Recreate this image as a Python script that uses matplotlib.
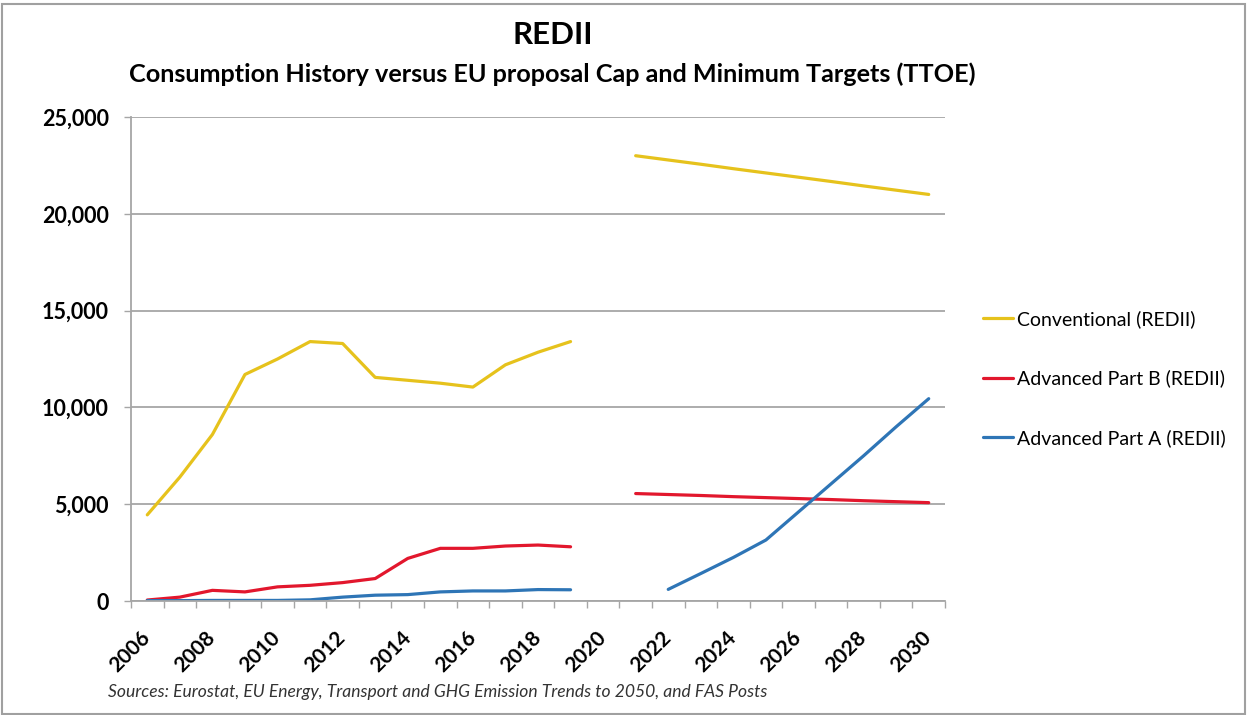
import numpy as np
import matplotlib
matplotlib.use("Agg")
import matplotlib.pyplot as plt
from matplotlib.ticker import FuncFormatter, FixedLocator
import matplotlib.transforms as mtransforms
from matplotlib.patches import Rectangle

years = [2006, 2007, 2008, 2009, 2010, 2011, 2012, 2013, 2014, 2015, 2016, 2017, 2018,
         2019, 2020, 2021, 2022, 2023, 2024, 2025, 2026, 2027, 2028, 2029, 2030]
nan = np.nan
conventional = [4450, 6400, 8600, 11700, 12500, 13400, 13300, 11550, 11400, 11250, 11050,
                12200, 12850, 13400, nan,
                23000, 22780, 22560, 22330, 22110, 21890, 21670, 21440, 21220, 21000]
part_b = [50, 200, 550, 470, 730, 810, 950, 1160, 2200, 2720, 2720, 2840, 2890, 2800, nan,
          5550, 5500, 5450, 5390, 5340, 5290, 5240, 5180, 5130, 5080]
part_a = [20, 20, 30, 30, 30, 60, 200, 300, 330, 470, 520, 520, 590, 580, nan,
          nan, 600, 1420, 2250, 3150, 4600, 6050, 7500, 9000, 10450]
series_names = ["Conventional (REDII)", "Advanced Part B (REDII)", "Advanced Part A (REDII)"]
colors = ["#E6C21C", "#E2172D", "#2E75B6"]
y_ticks = [0, 5000, 10000, 15000, 20000, 25000]
x_label_years = [2006, 2008, 2010, 2012, 2014, 2016, 2018, 2020, 2022, 2024, 2026, 2028, 2030]

FONT = "Lato"
plt.rcParams["font.family"] = [FONT, "DejaVu Sans"]

W, H = 1249, 715
fig = plt.figure(figsize=(W / 100, H / 100), dpi=100)
fig.patch.set_facecolor("white")
fig.patches.append(Rectangle((0.002, 0.002), 0.995, 0.993, transform=fig.transFigure,
                             fill=False, edgecolor="#A0A0A0", linewidth=1.5))

ax = fig.add_axes([131 / W, 1 - 601 / H, (945 - 131) / W, (601 - 117) / H])
x = np.arange(len(years))
for vals, name, c in zip([conventional, part_b, part_a], series_names, colors):
    ax.plot(x, np.array(vals, dtype=float), color=c, linewidth=2.3, label=name,
            solid_capstyle="round", solid_joinstyle="round")

ax.set_xlim(-0.5, len(years) - 0.5)
ax.set_ylim(0, 25000)
ax.set_yticks(y_ticks)
ax.yaxis.set_major_formatter(FuncFormatter(lambda v, p: f"{int(v):,}"))
ax.grid(axis="y", color="#A6A6A6", linewidth=1.3)
ax.set_axisbelow(True)
for s in ["top", "right"]:
    ax.spines[s].set_visible(False)
for s in ["left", "bottom"]:
    ax.spines[s].set_color("#A6A6A6")
    ax.spines[s].set_linewidth(1.3)

label_pos = [years.index(y) for y in x_label_years]
ax.set_xticks(label_pos)
ax.set_xticklabels([str(y) for y in x_label_years])
ax.xaxis.set_minor_locator(FixedLocator(np.arange(-0.5, len(years), 1.0)))
ax.tick_params(axis="x", which="major", length=0, pad=19)
ax.tick_params(axis="x", which="minor", length=5, color="#A6A6A6", width=1)
ax.tick_params(axis="y", length=5, color="#A6A6A6", width=1, pad=11)
for lbl in ax.get_yticklabels():
    lbl.set_fontsize(15.5)
    lbl.set_fontweight("bold")
offset = mtransforms.ScaledTranslation(7 / 100, 0, fig.dpi_scale_trans)
for lbl in ax.get_xticklabels():
    lbl.set_fontsize(15)
    lbl.set_fontweight("bold")
    lbl.set_rotation(45)
    lbl.set_ha("right")
    lbl.set_va("top")
    lbl.set_transform(lbl.get_transform() + offset)

fig.text(553 / W, 1 - 35 / H, "REDII", ha="center", va="center", fontsize=22.5, fontweight="bold")
fig.text(552 / W, 1 - 74 / H, "Consumption History versus EU proposal Cap and Minimum Targets (TTOE)",
         ha="center", va="center", fontsize=18.2, fontweight="bold")
fig.text(108 / W, 1 - 692 / H,
         "Sources: Eurostat, EU Energy, Transport and GHG Emission Trends to 2050, and FAS Posts",
         ha="left", va="center", fontsize=12.6, style="italic", color="#333333")

fig.legend(loc="upper left", bbox_to_anchor=(983 / W, 1 - 310 / H), frameon=False,
           fontsize=14, handlelength=1.55, handletextpad=0.2, labelspacing=2.14,
           borderpad=0, borderaxespad=0)

fig.savefig("out.png", dpi=100)
